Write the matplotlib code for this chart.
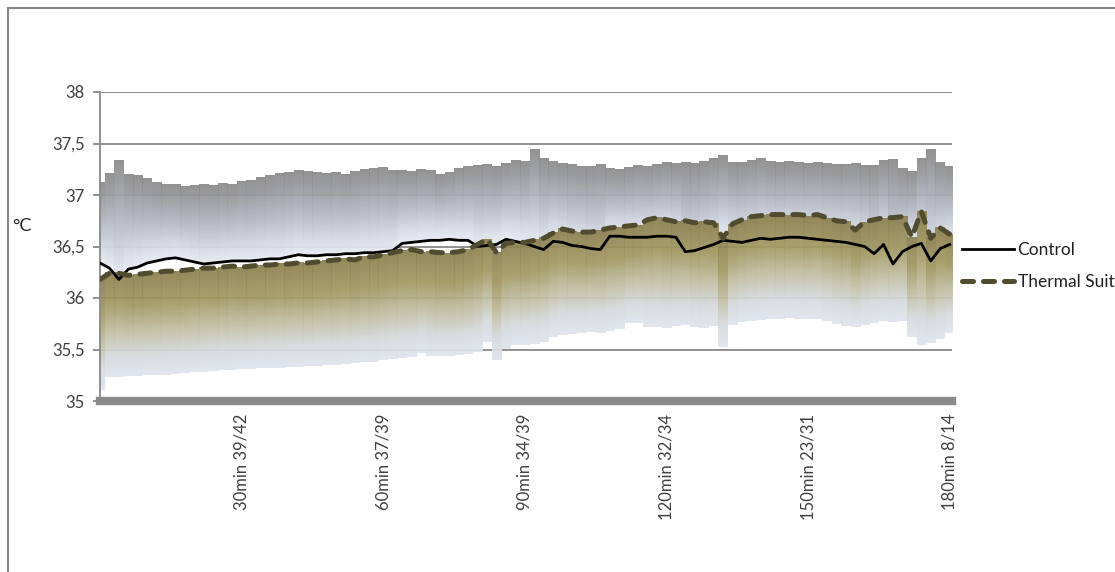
import numpy as np
import matplotlib.pyplot as plt
from matplotlib.colors import LinearSegmentedColormap
from matplotlib.lines import Line2D

plt.rcParams['font.family'] = ['Lato', 'DejaVu Sans']

# minutes from start, one sample every 2 min
minutes = list(range(0, 181, 2))

control_mean = [
    36.34, 36.29, 36.18, 36.28, 36.30, 36.34, 36.36, 36.38, 36.39, 36.37,
    36.35, 36.33, 36.34, 36.35, 36.36, 36.36, 36.36, 36.37, 36.38, 36.38,
    36.40, 36.42, 36.41, 36.41, 36.42, 36.42, 36.43, 36.43, 36.44, 36.44,
    36.45, 36.46, 36.53, 36.54, 36.55, 36.56, 36.56, 36.57, 36.56, 36.56,
    36.50, 36.51, 36.52, 36.57, 36.55, 36.53, 36.50, 36.47, 36.55, 36.54,
    36.51, 36.50, 36.48, 36.47, 36.60, 36.60, 36.59, 36.59, 36.59, 36.60,
    36.60, 36.59, 36.45, 36.46, 36.49, 36.52, 36.56, 36.55, 36.54, 36.56,
    36.58, 36.57, 36.58, 36.59, 36.59, 36.58, 36.57, 36.56, 36.55, 36.54,
    36.52, 36.50, 36.43, 36.52, 36.33, 36.45, 36.50, 36.53, 36.36, 36.48,
    36.52,
]
control_upper = [
    37.12, 37.21, 37.33, 37.20, 37.19, 37.16, 37.12, 37.10, 37.10, 37.08,
    37.09, 37.10, 37.09, 37.11, 37.10, 37.13, 37.14, 37.17, 37.19, 37.21,
    37.22, 37.24, 37.23, 37.22, 37.21, 37.22, 37.20, 37.23, 37.25, 37.26,
    37.27, 37.24, 37.23, 37.22, 37.24, 37.23, 37.20, 37.22, 37.25, 37.27,
    37.28, 37.29, 37.27, 37.30, 37.33, 37.32, 37.44, 37.36, 37.32, 37.30,
    37.29, 37.27, 37.28, 37.30, 37.26, 37.25, 37.26, 37.28, 37.27, 37.29,
    37.31, 37.30, 37.32, 37.31, 37.33, 37.35, 37.38, 37.31, 37.31, 37.33,
    37.35, 37.32, 37.31, 37.32, 37.31, 37.30, 37.31, 37.30, 37.29, 37.29,
    37.30, 37.28, 37.29, 37.33, 37.34, 37.26, 37.22, 37.35, 37.44, 37.32,
    37.27,
]
suit_mean = [
    36.18, 36.24, 36.24, 36.22, 36.23, 36.24, 36.25, 36.26, 36.26, 36.27,
    36.28, 36.29, 36.29, 36.30, 36.31, 36.30, 36.31, 36.32, 36.32, 36.33,
    36.33, 36.34, 36.34, 36.35, 36.36, 36.37, 36.38, 36.37, 36.40, 36.40,
    36.42, 36.44, 36.46, 36.47, 36.45, 36.45, 36.44, 36.44, 36.45, 36.47,
    36.52, 36.57, 36.44, 36.53, 36.54, 36.54, 36.56, 36.58, 36.63, 36.67,
    36.65, 36.64, 36.64, 36.66, 36.68, 36.69, 36.70, 36.71, 36.76, 36.78,
    36.76, 36.74, 36.75, 36.73, 36.74, 36.73, 36.58, 36.72, 36.76, 36.79,
    36.80, 36.81, 36.81, 36.81, 36.81, 36.80, 36.81, 36.78, 36.75, 36.74,
    36.66, 36.74, 36.76, 36.78, 36.78, 36.79, 36.59, 36.84, 36.58, 36.68,
    36.62,
]
suit_lower = [
    35.11, 35.23, 35.23, 35.24, 35.24, 35.25, 35.25, 35.25, 35.26, 35.27,
    35.28, 35.28, 35.29, 35.30, 35.30, 35.31, 35.31, 35.32, 35.32, 35.32,
    35.33, 35.33, 35.34, 35.34, 35.35, 35.35, 35.36, 35.37, 35.38, 35.38,
    35.40, 35.41, 35.42, 35.43, 35.47, 35.44, 35.44, 35.44, 35.45, 35.46,
    35.48, 35.57, 35.40, 35.50, 35.54, 35.54, 35.55, 35.57, 35.62, 35.64,
    35.65, 35.66, 35.67, 35.66, 35.68, 35.70, 35.76, 35.76, 35.72, 35.72,
    35.71, 35.73, 35.74, 35.72, 35.71, 35.73, 35.52, 35.74, 35.77, 35.78,
    35.79, 35.80, 35.80, 35.81, 35.80, 35.80, 35.80, 35.78, 35.75, 35.73,
    35.72, 35.74, 35.76, 35.78, 35.77, 35.78, 35.62, 35.54, 35.56, 35.60,
    35.66,
]

x_ticks = [30, 60, 90, 120, 150, 180]
x_labels = ["30min 39/42", "60min 37/39", "90min 34/39",
            "120min 32/34", "150min 23/31", "180min 8/14"]
y_ticks = [35, 35.5, 36, 36.5, 37, 37.5, 38]
y_labels = ["35", "35,5", "36", "36,5", "37", "37,5", "38"]

# bar fills, bottom -> top of each bar
ctrl_cmap = LinearSegmentedColormap.from_list(
    "ctrl", [(0, "#e8ebf2"), (0.18, "#d5dae5"), (0.47, "#b5bac6"),
             (0.8, "#999a9e"), (1, "#8a8a8a")])
suit_cmap = LinearSegmentedColormap.from_list(
    "suit", [(0, "#dfe5ee"), (0.2, "#d6dadd"), (0.45, "#c0bc9f"),
             (0.7, "#a29862"), (1, "#8c8050")])

suit_color = "#514b30"

fig = plt.figure(figsize=(11.15, 5.72), dpi=100)
ax = fig.add_axes([100 / 1115, 1 - 401 / 572, 852 / 1115, 309 / 572])

grad = np.linspace(0, 1, 256).reshape(-1, 1)
step = minutes[1] - minutes[0]
for t, lo, hi in zip(minutes, control_mean, control_upper):
    ax.imshow(grad, cmap=ctrl_cmap, origin="lower", aspect="auto",
              extent=(t - step / 2, t + step / 2, lo, hi),
              interpolation="bilinear", alpha=0.93, zorder=1)
for t, lo, hi in zip(minutes, suit_lower, suit_mean):
    ax.imshow(grad, cmap=suit_cmap, origin="lower", aspect="auto",
              extent=(t - step / 2, t + step / 2, lo, hi),
              interpolation="bilinear", alpha=0.93, zorder=2)

ax.plot(minutes, control_mean, color="black", lw=2.0, zorder=3)
ax.plot(minutes, suit_mean, color=suit_color, lw=3.6, zorder=4,
        dashes=(2.2, 2.0), dash_capstyle="round")

ax.set_xlim(0, 180.5)
ax.set_ylim(35, 38)
ax.set_yticks(y_ticks)
ax.set_yticklabels(y_labels)
ax.set_xticks(x_ticks)
ax.set_xticklabels(x_labels, rotation=90, va="top", ha="center")
ax.grid(axis="y", color="#888888", lw=1.3, zorder=0)
ax.set_axisbelow(True)

for side in ("top", "right"):
    ax.spines[side].set_visible(False)
ax.spines["left"].set_color("#888888")
ax.spines["left"].set_linewidth(1.3)
ax.spines["bottom"].set_color("#8a8a8a")
ax.spines["bottom"].set_linewidth(6)
ax.tick_params(axis="y", length=5, width=1.3, color="#888888",
               labelsize=12, labelcolor="#404040", pad=6)
ax.tick_params(axis="x", length=0, labelsize=12, labelcolor="#404040",
               pad=9)

fig.text(12 / 1115, 1 - 226 / 572, "°C", fontsize=13, color="#202020",
         va="center", ha="left")

handles = [Line2D([], [], color="black", lw=2.0),
           Line2D([], [], color=suit_color, lw=3.6, dashes=(2.2, 2.0),
                  dash_capstyle="round")]
fig.legend(handles, ["Control", "Thermal Suit"], frameon=False,
           loc="center left", bbox_to_anchor=(962 / 1115, 1 - 266 / 572),
           borderaxespad=0, borderpad=0,
           fontsize=12.5, handlelength=3.0, handletextpad=0.2,
           labelspacing=0.95, labelcolor="#202020")

# outer chart frame
fig.add_artist(Line2D([8 / 1115, 8 / 1115], [0, 1 - 8 / 572],
                      color="#868686", lw=1.5))
fig.add_artist(Line2D([8 / 1115, 1], [1 - 8 / 572, 1 - 8 / 572],
                      color="#868686", lw=1.5))

fig.savefig("out.png", dpi=100, facecolor="white")
